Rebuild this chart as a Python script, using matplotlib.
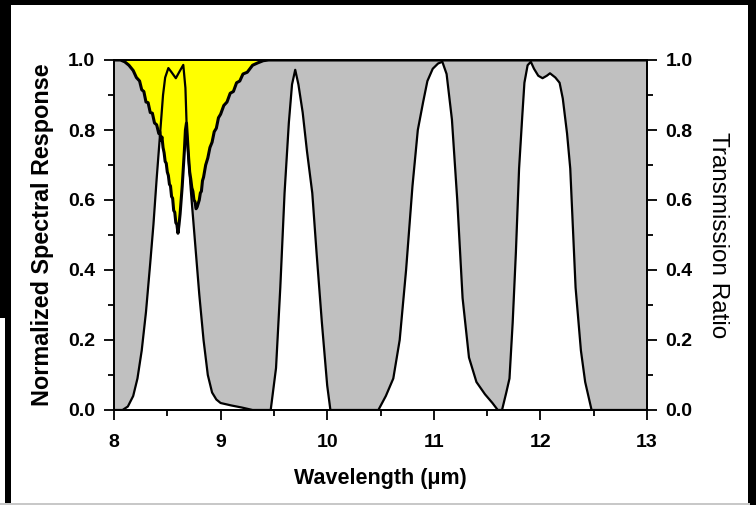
import matplotlib.pyplot as plt
from matplotlib.patches import Rectangle
from matplotlib.ticker import MultipleLocator

# filter bands (left axis)
filter_wl = [8.00, 8.08, 8.13, 8.18, 8.22, 8.26, 8.30, 8.34, 8.37, 8.40, 8.43, 8.46, 8.48,
             8.51, 8.54, 8.58, 8.62, 8.65, 8.67, 8.685, 8.72, 8.76, 8.80, 8.84, 8.88, 8.92,
             8.96, 9.00, 9.10, 9.20, 9.30, 9.47, 9.52, 9.56, 9.60, 9.64, 9.67, 9.70, 9.73,
             9.77, 9.81, 9.86, 9.90, 9.95, 10.00, 10.03, 10.48, 10.55, 10.62, 10.68, 10.74,
             10.80, 10.85, 10.90, 10.94, 10.99, 11.04, 11.08, 11.12, 11.17, 11.22, 11.27,
             11.33, 11.40, 11.48, 11.55, 11.60, 11.64, 11.68, 11.71, 11.74, 11.77, 11.80,
             11.83, 11.85, 11.88, 11.91, 11.94, 11.98, 12.02, 12.06, 12.09, 12.14, 12.18,
             12.21, 12.25, 12.28, 12.33, 12.38, 12.42, 12.48, 13.00]
filter_resp = [0.0, 0.0, 0.01, 0.04, 0.09, 0.17, 0.28, 0.42, 0.53, 0.66, 0.78, 0.90, 0.95,
               0.977, 0.965, 0.948, 0.97, 0.986, 0.92, 0.78, 0.63, 0.48, 0.33, 0.20, 0.10, 0.05,
               0.03, 0.02, 0.013, 0.007, 0.0, 0.0, 0.12, 0.35, 0.62, 0.82, 0.93, 0.972, 0.93,
               0.85, 0.74, 0.62, 0.45, 0.25, 0.07, 0.0, 0.0, 0.04, 0.09, 0.20, 0.40,
               0.64, 0.80, 0.88, 0.94, 0.975, 0.99, 0.995, 0.96, 0.83, 0.60, 0.32,
               0.15, 0.08, 0.045, 0.02, 0.0, 0.0, 0.05, 0.09, 0.25, 0.45, 0.69,
               0.84, 0.935, 0.985, 0.995, 0.975, 0.955, 0.948, 0.955, 0.962, 0.95, 0.935,
               0.89, 0.79, 0.69, 0.35, 0.17, 0.08, 0.0, 0.0]

# transmission ratio (right axis), jagged absorption band
trans_wl = [8.00, 8.06, 8.10, 8.14, 8.18, 8.21, 8.24, 8.26, 8.28, 8.30, 8.32, 8.34, 8.36,
            8.38, 8.40, 8.42, 8.43, 8.44, 8.45, 8.46, 8.47, 8.48, 8.49, 8.50, 8.51, 8.52,
            8.53, 8.54, 8.55, 8.56, 8.57, 8.58, 8.59, 8.60, 8.61, 8.62, 8.63, 8.64, 8.65,
            8.66, 8.67, 8.68, 8.69, 8.70, 8.71, 8.72, 8.73, 8.74, 8.75, 8.76, 8.77, 8.78,
            8.79, 8.80, 8.81, 8.82, 8.83, 8.84, 8.86, 8.88, 8.90, 8.92, 8.94, 8.96, 8.98,
            9.00, 9.03, 9.06, 9.09, 9.12, 9.15, 9.18, 9.21, 9.25, 9.30, 9.35, 9.40, 9.45,
            13.00]
trans_ratio = [1.0, 1.0, 0.995, 0.985, 0.97, 0.95, 0.94, 0.915, 0.91, 0.88, 0.878, 0.85,
               0.848, 0.82, 0.815, 0.79, 0.795, 0.77, 0.78, 0.75, 0.735, 0.71, 0.705, 0.68,
               0.67, 0.645, 0.64, 0.61, 0.605, 0.57, 0.565, 0.535, 0.53, 0.505, 0.53, 0.56,
               0.60, 0.64, 0.69, 0.74, 0.80, 0.82, 0.77, 0.72, 0.68, 0.66, 0.635, 0.625,
               0.60, 0.595, 0.575, 0.58, 0.59, 0.60, 0.62, 0.625, 0.655, 0.665, 0.70,
               0.72, 0.75, 0.765, 0.795, 0.805, 0.835, 0.845, 0.87, 0.88, 0.905, 0.91,
               0.935, 0.94, 0.96, 0.965, 0.985, 0.992, 0.998, 1.0, 1.0]

plt.rcParams['font.family'] = ['Liberation Sans', 'DejaVu Sans']

fig = plt.figure(figsize=(7.56, 5.05), dpi=100)
fig.patch.set_facecolor('black')
# white panel the chart sits on (behind the axes)
fig.patches.append(Rectangle((11 / 756, 2 / 505), 737 / 756, 498 / 505,
                             transform=fig.transFigure, facecolor='white',
                             edgecolor='none', zorder=-5))
fig.patches.append(Rectangle((0, 0), 5 / 756, 187 / 505, transform=fig.transFigure,
                             facecolor='white', edgecolor='none', zorder=-5))
fig.patches.append(Rectangle((0, 0), 750 / 756, 2 / 505, transform=fig.transFigure,
                             facecolor='#c8c8c8', edgecolor='none', zorder=-5))

ax = fig.add_axes([114 / 756, 95 / 505, 533 / 756, 350 / 505])
ax.set_facecolor('white')

# gray between filter curve and 1.0, yellow above the transmission curve
ax.fill_between(filter_wl, filter_resp, 1.0, color='#c0c0c0', lw=0, zorder=1)
ax.fill_between(trans_wl, trans_ratio, 1.0, color='#ffff00', lw=0, zorder=2)
ax.plot(trans_wl, trans_ratio, color='black', lw=2.2, zorder=3)
ax.plot(filter_wl, filter_resp, color='black', lw=1.6, zorder=4)

ax.set_xlim(8, 13)
ax.set_ylim(0, 1)
ax.xaxis.set_major_locator(MultipleLocator(1))
ax.xaxis.set_minor_locator(MultipleLocator(0.5))
ax.yaxis.set_major_locator(MultipleLocator(0.2))
ax.yaxis.set_minor_locator(MultipleLocator(0.1))
ax.yaxis.set_major_formatter(plt.FormatStrFormatter('%.1f'))

ax2 = ax.twinx()
ax2.set_ylim(0, 1)
ax2.yaxis.set_major_locator(MultipleLocator(0.2))
ax2.yaxis.set_minor_locator(MultipleLocator(0.1))
ax2.yaxis.set_major_formatter(plt.FormatStrFormatter('%.1f'))

for a in (ax, ax2):
    for s in a.spines.values():
        s.set_linewidth(1.3)
    a.tick_params(which='major', direction='out', length=7.5, width=1.3,
                  labelsize=14, pad=6)
    a.tick_params(which='minor', direction='out', length=4, width=1.3)
    for lab in a.get_xticklabels() + a.get_yticklabels():
        lab.set_fontweight('bold')
ax.tick_params(axis='x', pad=10)

ax.set_xlabel('Wavelength (\u03bcm)', fontsize=15.5, fontweight='bold', labelpad=12)
ax.set_ylabel('Normalized Spectral Response', fontsize=16.8, fontweight='bold', labelpad=10)
ax2.set_ylabel('Transmission Ratio', fontsize=17.5, rotation=270, labelpad=26)

fig.savefig('out.png', dpi=100)
